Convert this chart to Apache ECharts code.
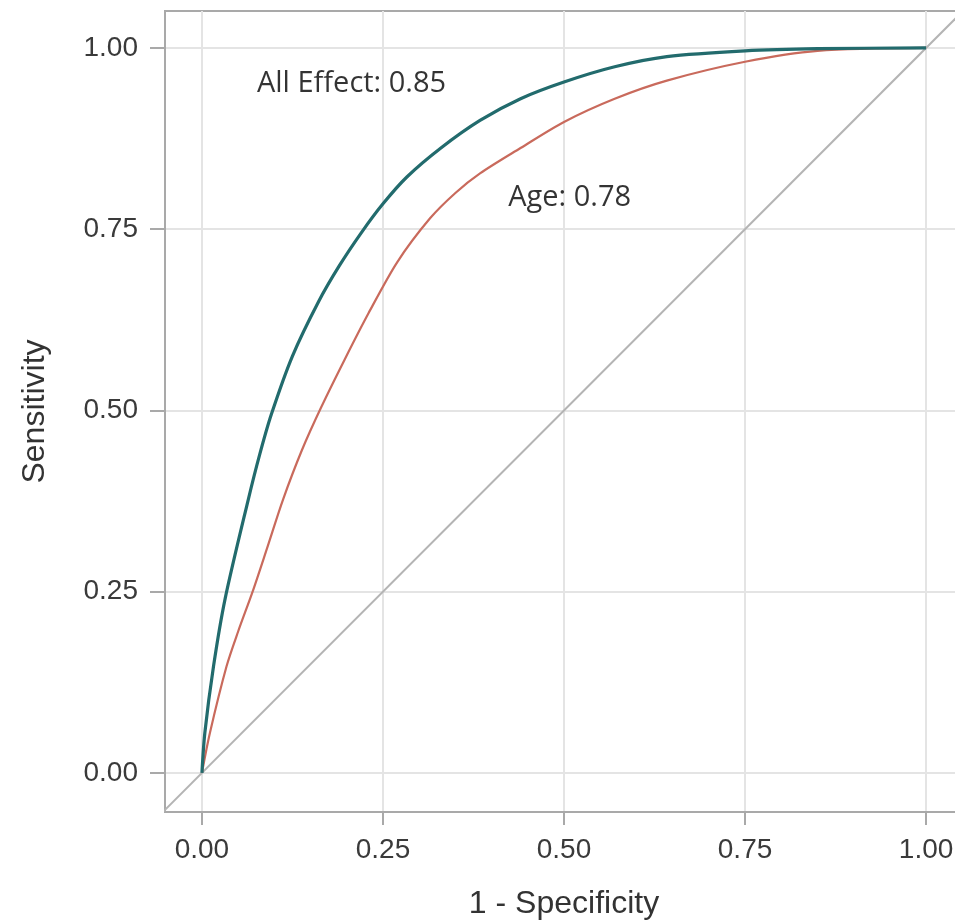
<!DOCTYPE html>
<html>
<head>
<meta charset="utf-8">
<script src="https://cdn.jsdelivr.net/npm/echarts@6/dist/echarts.min.js"></script>
<style>
html,body{margin:0;padding:0;background:#fff;}
#chart{width:955px;height:923px;}
</style>
</head>
<body>
<div id="chart"></div>
<script>
// Tick values for both axes
var tickValues = [0, 0.25, 0.5, 0.75, 1];

// ROC curve: All Effect model (AUC 0.85) -- [1 - specificity, sensitivity]
var allEffectFPR = [0, 0.004, 0.016, 0.032, 0.064, 0.08, 0.096, 0.125, 0.161, 0.19, 0.22, 0.25, 0.283, 0.33, 0.384, 0.44, 0.5, 0.57, 0.642, 0.75, 0.85, 1];
var allEffectTPR = [0, 0.055, 0.147, 0.24, 0.377, 0.44, 0.495, 0.575, 0.65, 0.70, 0.745, 0.785, 0.822, 0.862, 0.90, 0.93, 0.953, 0.974, 0.988, 0.996, 0.999, 1];

// ROC curve: Age model (AUC 0.78)
var ageFPR = [0, 0.011, 0.034, 0.05, 0.07, 0.09, 0.112, 0.138, 0.165, 0.197, 0.23, 0.27, 0.315, 0.35, 0.384, 0.44, 0.5, 0.57, 0.642, 0.75, 0.85, 1];
var ageTPR = [0, 0.055, 0.147, 0.195, 0.25, 0.31, 0.377, 0.445, 0.505, 0.57, 0.634, 0.705, 0.765, 0.80, 0.827, 0.862, 0.898, 0.93, 0.955, 0.981, 0.996, 1];

// Chance (reference) diagonal
var diagX = [-0.06, 1.06];
var diagY = [-0.06, 1.06];

// Annotation labels [x, y, text]
var annotations = [
  [0.076, 0.951, 'All Effect: 0.85'],
  [0.423, 0.794, 'Age: 0.78']
];

function zip(a, b) { return a.map(function (v, i) { return [v, b[i]]; }); }

var font = 'Liberation Sans';
var chart = echarts.init(document.getElementById('chart'));
chart.setOption({
  animation: false,
  backgroundColor: '#ffffff',
  grid: {
    left: 165, top: 11, width: 798, height: 801,
    outerBoundsMode: 'none', containLabel: false,
    show: true, borderColor: '#a9a9a9', borderWidth: 2, backgroundColor: 'transparent'
  },
  xAxis: {
    type: 'value', min: -0.051, max: 1.051,
    name: '1 - Specificity', nameLocation: 'middle', nameGap: 76,
    nameTextStyle: { fontFamily: font, fontSize: 32, color: '#333' },
    axisLine: { show: true, onZero: false, lineStyle: { color: '#a9a9a9', width: 2 } },
    axisTick: { show: true, length: 13, customValues: tickValues, lineStyle: { color: '#a9a9a9', width: 2 } },
    axisLabel: { customValues: tickValues, margin: 24, fontFamily: font, fontSize: 28, color: '#3a3a3a',
      formatter: function (v) { return v.toFixed(2); } },
    splitLine: { show: true, lineStyle: { color: '#e4e4e4', width: 2 } }
  },
  yAxis: {
    type: 'value', min: -0.054, max: 1.051,
    name: 'Sensitivity', nameLocation: 'middle', nameGap: 114,
    nameTextStyle: { fontFamily: font, fontSize: 32, color: '#333' },
    axisLine: { show: true, onZero: false, lineStyle: { color: '#a9a9a9', width: 2 } },
    axisTick: { show: true, length: 15, customValues: tickValues, lineStyle: { color: '#a9a9a9', width: 2 } },
    axisLabel: { customValues: tickValues, margin: 27, fontFamily: font, fontSize: 28, color: '#3a3a3a',
      formatter: function (v) { return v.toFixed(2); } },
    splitLine: { show: true, lineStyle: { color: '#e4e4e4', width: 2 } }
  },
  series: [
    {
      name: 'Chance', type: 'line', data: zip(diagX, diagY), symbol: 'none',
      lineStyle: { color: '#b4b4b4', width: 2 }, clip: true, z: 2
    },
    {
      name: 'Age', type: 'line', data: zip(ageFPR, ageTPR), symbol: 'none',
      smooth: 0.3,
      lineStyle: { color: '#c96a5c', width: 2.2 }, z: 3
    },
    {
      name: 'All Effect', type: 'line', data: zip(allEffectFPR, allEffectTPR), symbol: 'none',
      smooth: 0.3,
      lineStyle: { color: '#226b6d', width: 3.2 }, z: 4
    },
    {
      name: 'labels', type: 'scatter', data: annotations, symbolSize: 0, silent: true, z: 5,
      label: {
        show: true, position: 'right', distance: 0,
        formatter: function (p) { return p.data[2]; },
        fontFamily: 'Open Sans', fontSize: 29, color: '#000'
      }
    }
  ]
});
</script>
</body>
</html>
